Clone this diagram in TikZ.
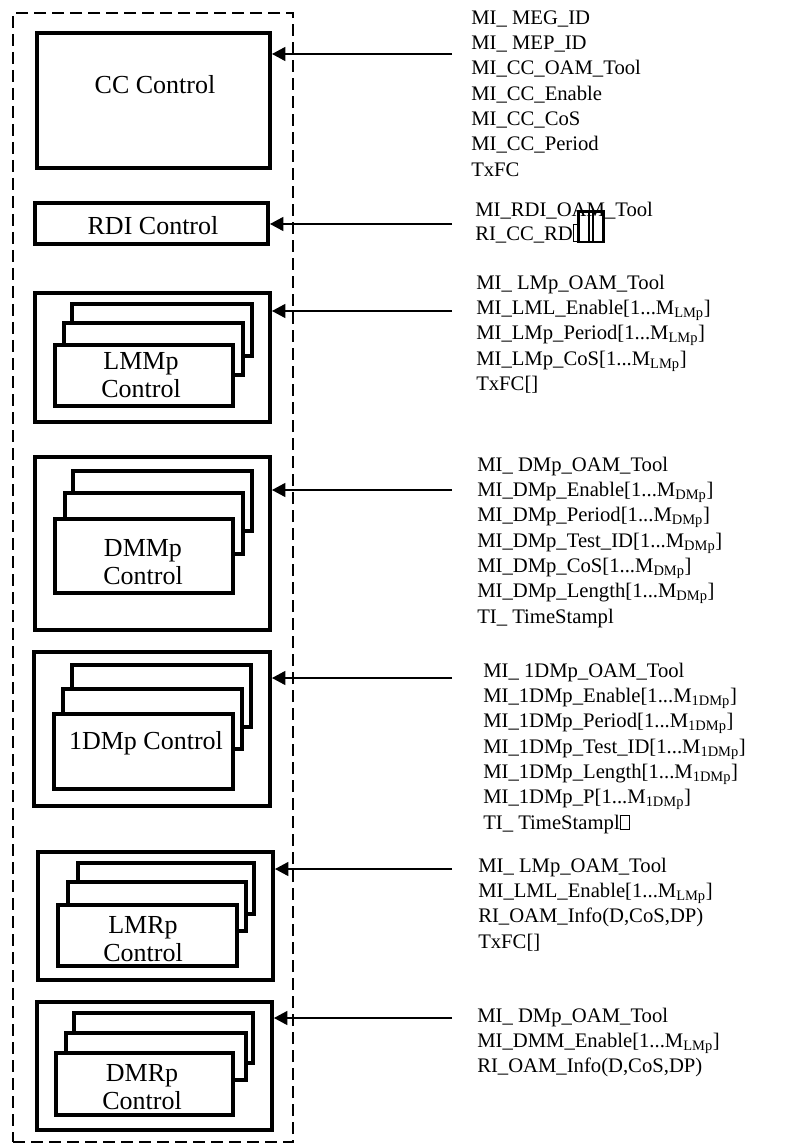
\documentclass[tikz,border=0pt]{standalone}
\usepackage{fontspec}
\setmainfont{Liberation Serif}
\usetikzlibrary{fit,arrows.meta}
\newcommand{\tofu}[3]{{\setlength{\fboxsep}{0pt}\setlength{\fboxrule}{#3}\fbox{\rule{0pt}{#2}\rule{#1}{0pt}}}}
\newcommand{\Msub}[1]{M\textsubscript{#1}}

\begin{document}
\begin{tikzpicture}[
      x=0.75pt, y=-0.75pt,
      ctrlbox/.style={
        draw, line width=3pt,
        fill=white,
        inner sep=0pt
      },
      ctrllbl/.style={inner sep=0pt, font=\fontsize{19.5}{21}\selectfont, align=center},
      framebox/.style={draw, line width=1.3pt, dash pattern=on 9pt off 4.5pt, inner sep=0pt},
      sigtext/.style={anchor=north west, inner sep=0pt, align=left, font=\fontsize{15.5}{19}\selectfont},
      sig/.style={-{Triangle[length=10pt,width=10.5pt]}, line width=1pt}
    ]
      \useasboundingbox (0,0) rectangle (794,1144);
      \node[framebox, fit={(13,13) (293,1142)}] (frame) {};

      % CC and RDI
      \node[ctrlbox, fit={(37,33) (270,168)}] (cc) {};
      \node[ctrllbl] (cclbl) at (155,85) {CC Control};
      \node[ctrlbox, fit={(35,203) (268,244)}] (rdi) {};
      \node[ctrllbl] (rdilbl) at (153,226) {RDI Control};

      % LMMp
      \node[ctrlbox, fit={(35,293) (270,422)}] (lmm) {};
      \node[ctrlbox, fit={(72,304) (252,356)}] (lmm3) {};
      \node[ctrlbox, fit={(64,323) (243,375)}] (lmm2) {};
      \node[ctrlbox, fit={(55,345) (233,406)}] (lmm1) {};
      \node[ctrllbl] (lmmlbl) at (141,375) {LMMp\\Control};

      % DMMp
      \node[ctrlbox, fit={(35,457) (270,630)}] (dmm) {};
      \node[ctrlbox, fit={(73,471) (252,531)}] (dmm3) {};
      \node[ctrlbox, fit={(65,493) (243,554)}] (dmm2) {};
      \node[ctrlbox, fit={(55,519) (233,593)}] (dmm1) {};
      \node[ctrllbl] (dmmlbl) at (143,562) {DMMp\\Control};

      % 1DMp
      \node[ctrlbox, fit={(34,652) (270,806)}] (odm) {};
      \node[ctrlbox, fit={(72,665) (251,727)}] (odm3) {};
      \node[ctrlbox, fit={(63,689) (242,749)}] (odm2) {};
      \node[ctrlbox, fit={(54,714) (233,789)}] (odm1) {};
      \node[ctrllbl] (odmlbl) at (146,743) {1DMp Control};

      % LMRp
      \node[ctrlbox, fit={(38,852) (273,980)}] (lmr) {};
      \node[ctrlbox, fit={(78,863) (254,914)}] (lmr3) {};
      \node[ctrlbox, fit={(68,882) (246,931)}] (lmr2) {};
      \node[ctrlbox, fit={(58,905) (237,966)}] (lmr1) {};
      \node[ctrllbl] (lmrlbl) at (143,939) {LMRp\\Control};

      % DMRp
      \node[ctrlbox, fit={(37,1002) (272,1130)}] (dmr) {};
      \node[ctrlbox, fit={(74,1013) (253,1063)}] (dmr3) {};
      \node[ctrlbox, fit={(66,1033) (246,1080)}] (dmr2) {};
      \node[ctrlbox, fit={(56,1053) (233,1115)}] (dmr1) {};
      \node[ctrllbl] (dmrlbl) at (142,1087) {DMRp\\Control};

      % signal lists
      \node[sigtext] (ccsig) at (471,6.3) {\strut MI\_ MEG\_ID\\
        MI\_ MEP\_ID\\
        MI\_CC\_OAM\_Tool\\
        MI\_CC\_Enable\\
        MI\_CC\_CoS\\
        MI\_CC\_Period\\
        TxFC};
      \node[sigtext, font=\fontsize{15.5}{16.5}\selectfont] (rdisig) at (475,200.6) {\strut MI\_RDI\_OAM\_Tool\\
        RI\_CC\_RD\tofu{3pt}{11.5pt}{0.8pt}\kern-1.5pt\smash{\tofu{9pt}{21pt}{2pt}\kern-5pt\tofu{9pt}{21pt}{2pt}}};
      \node[sigtext] (lmmsig) at (476,271.3) {\strut MI\_ LMp\_OAM\_Tool\\
        MI\_LML\_Enable[1...\Msub{LMp}]\\
        MI\_LMp\_Period[1...\Msub{LMp}]\\
        MI\_LMp\_CoS[1...\Msub{LMp}]\\
        TxFC[]};
      \node[sigtext] (dmmsig) at (477,453.3) {\strut MI\_ DMp\_OAM\_Tool\\
        MI\_DMp\_Enable[1...\Msub{DMp}]\\
        MI\_DMp\_Period[1...\Msub{DMp}]\\
        MI\_DMp\_Test\_ID[1...\Msub{DMp}]\\
        MI\_DMp\_CoS[1...\Msub{DMp}]\\
        MI\_DMp\_Length[1...\Msub{DMp}]\\
        TI\_ TimeStampl};
      \node[sigtext] (odmsig) at (483,659.3) {\strut MI\_ 1DMp\_OAM\_Tool\\
        MI\_1DMp\_Enable[1...\Msub{1DMp}]\\
        MI\_1DMp\_Period[1...\Msub{1DMp}]\\
        MI\_1DMp\_Test\_ID[1...\Msub{1DMp}]\\
        MI\_1DMp\_Length[1...\Msub{1DMp}]\\
        MI\_1DMp\_P[1...\Msub{1DMp}]\\
        TI\_ TimeStampl\tofu{6pt}{10pt}{0.8pt}};
      \node[sigtext] (lmrsig) at (478,854.3) {\strut MI\_ LMp\_OAM\_Tool\\
        MI\_LML\_Enable[1...\Msub{LMp}]\\
        RI\_OAM\_Info(D,CoS,DP)\\
        TxFC[]};
      \node[sigtext] (dmrsig) at (477,1004.3) {\strut MI\_ DMp\_OAM\_Tool\\
        MI\_DMM\_Enable[1...\Msub{LMp}]\\
        RI\_OAM\_Info(D,CoS,DP)};

      % inputs
      \coordinate (ccin) at (452,54);
      \coordinate (rdiin) at (452,224);
      \coordinate (lmmin) at (452,311);
      \coordinate (dmmin) at (452,490);
      \coordinate (odmin) at (452,678);
      \coordinate (lmrin) at (452,869);
      \coordinate (dmrin) at (452,1018);
      \draw[sig] (ccin) -- (ccin -| cc.east);
      \draw[sig] (rdiin) -- (rdiin -| rdi.east);
      \draw[sig] (lmmin) -- (lmmin -| lmm.east);
      \draw[sig] (dmmin) -- (dmmin -| dmm.east);
      \draw[sig] (odmin) -- (odmin -| odm.east);
      \draw[sig] (lmrin) -- (lmrin -| lmr.east);
      \draw[sig] (dmrin) -- (dmrin -| dmr.east);
    \end{tikzpicture}
\end{document}
